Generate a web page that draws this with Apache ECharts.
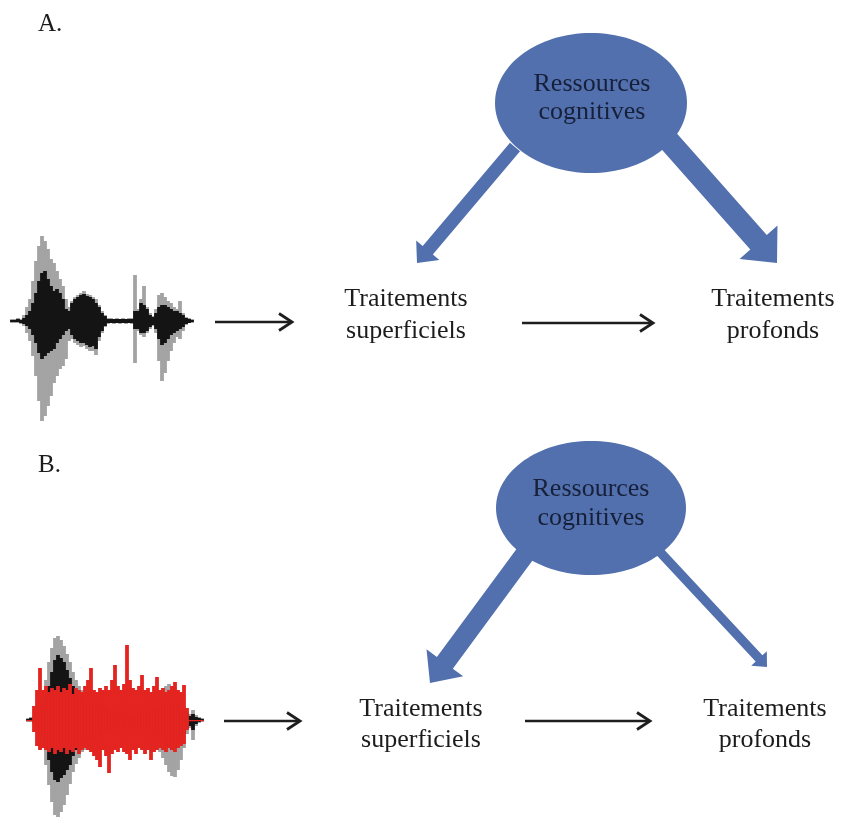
<!DOCTYPE html>
<html><head><meta charset="utf-8">
<script src="https://cdn.jsdelivr.net/npm/echarts@6/dist/echarts.min.js"></script>
<style>html,body{margin:0;padding:0;background:#fff}#c{width:851px;height:819px}</style>
</head><body><div id="c"></div>
<script>
// ---------- content / values ----------
const panelLabels = ['A.', 'B.'];
const resourceLabel = 'Ressources\ncognitives';
const stageLabels = ['Traitements\nsuperficiels', 'Traitements\nprofonds'];
// relative weight of the resource arrows toward [superficiels, profonds]
const allocationA = [0.6, 1.0];
const allocationB = [0.9, 0.42];

// waveform amplitudes (px above / below the baseline), one per sample
const waveAGrayUp    = [2,2,3,2,6,14,22,40,60,75,85,80,72,62,58,50,42,35,22,14,20,24,26,28,30,27,26,24,22,16,10,6,3,3,2,3,2,3,2,3,3,46,12,22,35,14,8,5,12,26,28,24,20,18,14,12,20,8,4,3,2];
const waveAGrayDown  = [2,2,2,3,5,12,20,35,55,80,100,95,85,75,62,55,48,45,38,20,18,22,24,26,25,28,30,30,34,20,12,6,3,2,3,2,3,2,3,2,3,42,10,14,16,12,8,5,12,40,60,52,40,30,22,16,18,10,4,2,2];
const waveABlackUp   = [1,1,2,1,3,6,10,18,28,40,48,50,42,35,30,32,28,22,12,10,18,22,24,26,27,25,24,22,18,14,8,5,2,2,2,2,2,2,2,2,2,10,10,18,16,12,6,4,8,14,16,16,14,12,10,10,8,6,3,2,1];
const waveABlackDown = [1,1,1,2,3,5,8,14,22,32,38,35,32,30,28,22,18,14,10,8,14,18,20,22,22,24,26,25,28,16,10,5,2,2,2,2,2,2,2,2,2,8,8,12,12,10,6,4,8,18,24,22,18,14,12,10,8,6,3,2,1];

const waveBGrayUp    = [2,3,4,8,15,25,40,58,72,82,84,80,74,66,58,48,40,34,30,28,26,24,22,20,18,16,14,12,12,10,10,8,8,8,8,10,10,12,14,12,14,16,18,22,26,30,34,36,34,30,26,20,14,8,6,10,5,3,2];
const waveBGrayDown  = [2,2,4,8,15,28,45,65,82,95,97,92,85,75,64,52,44,38,32,30,28,26,24,22,20,18,16,14,12,12,10,10,8,8,8,10,12,12,12,14,16,18,22,26,32,38,45,52,56,57,50,40,28,14,8,20,6,3,2];
const waveBBlackUp   = [1,2,2,4,8,14,22,34,48,60,65,62,58,50,42,34,28,24,22,20,20,18,16,14,12,12,10,8,8,6,6,6,4,4,4,6,6,8,8,8,8,10,10,12,14,16,18,20,20,18,16,12,8,6,4,6,3,2,1];
const waveBBlackDown = [1,1,2,4,8,16,26,40,52,60,62,58,55,50,45,36,30,26,24,22,20,20,18,16,14,12,12,10,8,8,6,6,6,4,4,6,8,8,8,8,10,10,12,14,16,20,24,28,30,28,24,18,14,8,6,10,4,2,1];
const waveBRedUp     = [0,0,14,30,52,30,34,28,32,30,34,28,32,30,36,26,32,30,28,34,40,52,30,28,32,30,34,30,40,55,34,30,36,75,40,32,30,34,45,30,32,28,34,43,30,32,28,30,34,38,30,28,35,12,0,0,0,0,0];
const waveBRedDown   = [0,0,12,26,30,28,30,32,28,34,30,32,28,34,30,32,28,34,30,28,30,32,36,40,47,30,36,53,34,30,32,28,32,34,40,30,34,28,30,34,30,40,32,30,28,30,32,28,30,32,28,26,24,10,0,0,0,0,0];

// ---------- layout (positions & sizes, in page pixels) ----------
const W = 851, H = 819;
const FONT = '"Liberation Serif", "Times New Roman", serif';
const layout = [
  { label:[38,24], ell:{cx:591,cy:103,rx:96,ry:70}, resText:[592,98.5], resLH:28,
    wave:{x0:12, step:3, cy:321},
    flow1:[215,292,322], flow2:[522,653,323],
    stage:[[406,315],[773,315]], stageLH:32,
    resArrows:[[[515,147],[417,263]], [[668,140],[777,263]]] },
  { label:[38,465], ell:{cx:591,cy:508,rx:95,ry:67}, resText:[591,504], resLH:29,
    wave:{x0:28, step:3, cy:720},
    flow1:[224,300,721], flow2:[525,650,721],
    stage:[[421,724.5],[765,724.5]], stageLH:31,
    resArrows:[[[528,550],[430,683]], [[660,552],[767,667]]] }
];
const SHAFT = 22, HEAD_RATIO = 2.3, HEAD_LEN_RATIO = 0.55;
const BLUE = '#5270ad';

// ---------- series ----------
function waveSeries(p, ups, downs, color, z) {
  const L = layout[p].wave;
  return {
    type:'custom', coordinateSystem:'cartesian2d', silent:true, z:z,
    data: ups.map((u,i)=>[L.x0 + i*L.step, L.cy - u, L.cy + downs[i]]),
    renderItem:(params, api)=>{
      const a = api.coord([api.value(0) - L.step/2 - 0.4, api.value(1)]);
      const b = api.coord([api.value(0) + L.step/2 + 0.4, api.value(2)]);
      return {type:'rect', shape:{x:a[0], y:a[1], width:b[0]-a[0], height:Math.max(1.2,b[1]-a[1])},
              style:{fill:color}};
    }
  };
}

const allocations = [allocationA, allocationB];
const arrowData = [];
layout.forEach((L,p)=>L.resArrows.forEach((seg,k)=>arrowData.push([seg[0][0],seg[0][1],seg[1][0],seg[1][1],allocations[p][k]])));

const resArrowSeries = {
  type:'custom', coordinateSystem:'cartesian2d', silent:true, z:2,
  data: arrowData,
  renderItem:(params, api)=>{
    const S = api.coord([api.value(0), api.value(1)]);
    const T = api.coord([api.value(2), api.value(3)]);
    const s = SHAFT*api.value(4), h = s*HEAD_RATIO, hl = h*HEAD_LEN_RATIO;
    const dx = T[0]-S[0], dy = T[1]-S[1], len = Math.hypot(dx,dy);
    const ux = dx/len, uy = dy/len, nx = -uy, ny = ux;
    const B = [T[0]-ux*hl, T[1]-uy*hl];
    const pts = [
      [S[0]+nx*s/2, S[1]+ny*s/2], [B[0]+nx*s/2, B[1]+ny*s/2], [B[0]+nx*h/2, B[1]+ny*h/2],
      T, [B[0]-nx*h/2, B[1]-ny*h/2], [B[0]-nx*s/2, B[1]-ny*s/2], [S[0]-nx*s/2, S[1]-ny*s/2]
    ];
    return {type:'polygon', shape:{points:pts}, style:{fill:BLUE}};
  }
};

const ellipseSeries = {
  type:'custom', coordinateSystem:'cartesian2d', silent:true, z:3,
  data: layout.map(L=>[L.ell.cx, L.ell.cy, L.ell.rx, L.ell.ry]),
  renderItem:(params, api)=>{
    const c = api.coord([api.value(0), api.value(1)]);
    const e = api.coord([api.value(0)+api.value(2), api.value(1)+api.value(3)]);
    return {type:'ellipse', shape:{cx:c[0], cy:c[1], rx:e[0]-c[0], ry:e[1]-c[1]}, style:{fill:BLUE}};
  }
};

const flowData = [];
layout.forEach(L=>{ flowData.push(L.flow1); flowData.push(L.flow2); });
const flowSeries = {
  type:'custom', coordinateSystem:'cartesian2d', silent:true, z:4,
  data: flowData,
  renderItem:(params, api)=>{
    const a = api.coord([api.value(0), api.value(2)]);
    const b = api.coord([api.value(1), api.value(2)]);
    return {type:'group', children:[
      {type:'line', shape:{x1:a[0], y1:a[1], x2:b[0]-1, y2:b[1]}, style:{stroke:'#1e1e1e', lineWidth:2.7}},
      {type:'polyline', shape:{points:[[b[0]-13,b[1]-8.5],[b[0],b[1]],[b[0]-13,b[1]+8.5]]},
       style:{stroke:'#1e1e1e', lineWidth:2.8, fill:null, lineJoin:'miter'}}
    ]};
  }
};

const textData = [];
layout.forEach((L,p)=>{
  textData.push({value:[L.label[0], L.label[1]], t:panelLabels[p], kind:'panel', lh:29});
  textData.push({value:[L.resText[0], L.resText[1]], t:resourceLabel, kind:'res', lh:L.resLH});
  L.stage.forEach((pos,k)=>textData.push({value:[pos[0], pos[1]], t:stageLabels[k], kind:'stage', lh:L.stageLH}));
});
const textSeries = {
  type:'custom', coordinateSystem:'cartesian2d', silent:true, z:10,
  data: textData.map(d=>d.value),
  renderItem:(params, api)=>{
    const d = textData[params.dataIndex];
    const c = api.coord([api.value(0), api.value(1)]);
    const isPanel = d.kind === 'panel';
    return {type:'text', style:{
      text:d.t, x:c[0], y:c[1],
      font: (isPanel ? '25px ' : '26px ') + FONT,
      fill: d.kind === 'res' ? '#17203a' : '#1c1c1c',
      align: isPanel ? 'left' : 'center', verticalAlign:'middle',
      textAlign: isPanel ? 'left' : 'center', textVerticalAlign:'middle',
      lineHeight:d.lh
    }};
  }
};

const chart = echarts.init(document.getElementById('c'), null, {renderer:'canvas', width:W, height:H});
chart.setOption({
  animation:false,
  backgroundColor:'#ffffff',
  grid:{left:0, right:0, top:0, bottom:0},
  xAxis:{type:'value', min:0, max:W, show:false},
  yAxis:{type:'value', min:0, max:H, inverse:true, show:false},
  series:[
    waveSeries(0, waveAGrayUp, waveAGrayDown, '#a3a3a3', 1),
    waveSeries(0, waveABlackUp, waveABlackDown, '#141414', 1),
    waveSeries(1, waveBGrayUp, waveBGrayDown, '#a3a3a3', 1),
    waveSeries(1, waveBBlackUp, waveBBlackDown, '#141414', 1),
    waveSeries(1, waveBRedUp, waveBRedDown, '#e42420', 1),
    resArrowSeries,
    ellipseSeries,
    flowSeries,
    textSeries
  ]
});
</script></body></html>
